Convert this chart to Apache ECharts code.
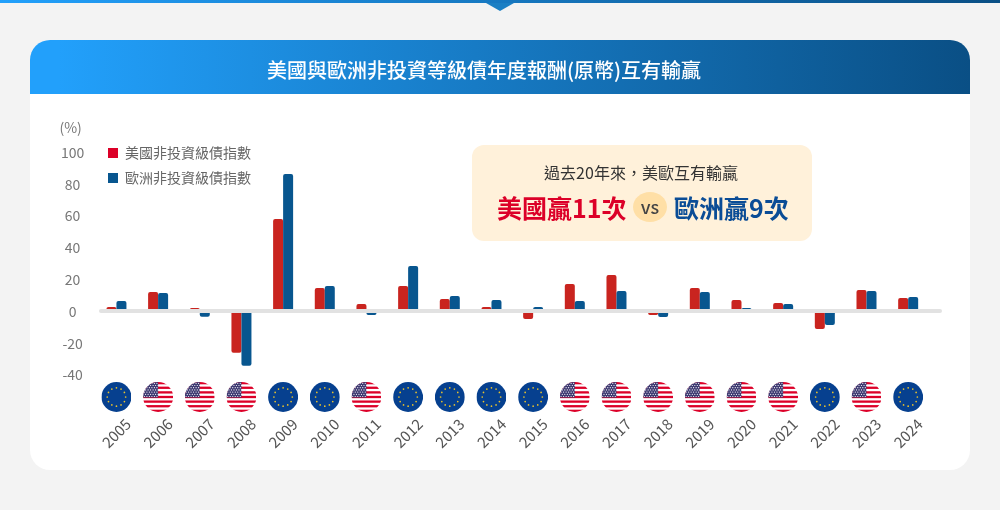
<!DOCTYPE html>
<html><head><meta charset="utf-8">
<script src="https://cdn.jsdelivr.net/npm/echarts@6/dist/echarts.min.js"></script>
<style>html,body{margin:0;padding:0;background:#f3f3f3}#c{width:1000px;height:510px}</style>
</head><body><div id="c"></div>
<script>
const years=['2005','2006','2007','2008','2009','2010','2011','2012','2013','2014','2015','2016','2017','2018','2019','2020','2021','2022','2023','2024'];
const usValues=[2.8,12.3,2.2,-25.9,58.2,14.8,4.7,16,7.9,2.8,-4.7,17.3,23,-2.2,14.8,7.2,5.3,-11,13.5,8.5];
const euValues=[6.6,11.6,-3.3,-34.1,86.5,16,-2.2,28.6,9.7,7.2,2.8,6.6,12.9,-3.5,12.3,2.2,4.7,-8.5,12.9,9.1];
const winners=['EU','US','US','US','EU','EU','US','EU','EU','EU','EU','US','US','US','US','US','US','EU','US','EU'];
const usName='美國非投資級債指數';
const euName='歐洲非投資級債指數';
const titleText='美國與歐洲非投資等級債年度報酬(原幣)互有輸贏';
const yTicks=[-40,-20,0,20,40,60,80,100];
const FONT='"Noto Sans CJK TC","Noto Sans",sans-serif';

function usFlag(){
  let s='<svg xmlns="http://www.w3.org/2000/svg" width="120" height="120" viewBox="0 0 30 30"><defs><clipPath id="c"><circle cx="15" cy="15" r="15"/></clipPath></defs><g clip-path="url(#c)"><rect width="30" height="30" fill="#fff"/>';
  for(let i=0;i<13;i+=2){s+='<rect x="0" y="'+(i*30/13)+'" width="30" height="'+(30/13)+'" fill="#dc0028"/>';}
  s+='<rect width="15" height="15.5" fill="#3e3a72"/>';
  for(let r=0;r<7;r++){for(let k=0;k<6;k++){s+='<circle cx="'+(1.3+k*2.5+(r%2?1.2:0))+'" cy="'+(1.3+r*2.2)+'" r="0.6" fill="#fff"/>';}}
  return s+'</g></svg>';
}
function euFlag(){
  let s='<svg xmlns="http://www.w3.org/2000/svg" width="120" height="120" viewBox="0 0 30 30"><circle cx="15" cy="15" r="15" fill="#06408f"/>';
  for(let i=0;i<12;i++){const a=i*Math.PI/6;s+='<circle cx="'+(15+9.2*Math.sin(a))+'" cy="'+(15-9.2*Math.cos(a))+'" r="0.85" fill="#e9c22c"/>';}
  return s+'</svg>';
}
const img=s=>'image://data:image/svg+xml;charset=utf-8,'+encodeURIComponent(s);
const flagSym={US:img(usFlag()),EU:img(euFlag())};
const barR=2;
const barL=95.6, barW=833.4;

const chart=echarts.init(document.getElementById('c'),null,{renderer:'canvas'});
const txt=(text,x,y,font,fill,align)=>({type:'text',z:3,style:{text,x,y,font,fill,textAlign:align||'center',textVerticalAlign:'middle'}});
chart.setOption({
  animation:false,
  backgroundColor:'#f3f3f3',
  title:{text:titleText,left:479,top:52,textAlign:'center',z:6,
    textStyle:{color:'#fff',fontSize:20,fontWeight:500,fontFamily:FONT,lineHeight:26}},
  legend:{orient:'vertical',left:108,top:145,itemWidth:10,itemHeight:10,itemGap:9,icon:'rect',
    textStyle:{color:'#666',fontSize:14,fontFamily:FONT,padding:[0,0,0,2],lineHeight:16},
    padding:0,
    data:[{name:usName,itemStyle:{color:'#dc0028'}},{name:euName,itemStyle:{color:'#08568f'}}]},
  graphic:[
    {type:'rect',z:-5,shape:{x:0,y:0,width:1000,height:3},style:{fill:new echarts.graphic.LinearGradient(0,0,1,0,[{offset:0,color:'#22a0fb'},{offset:1,color:'#0a4f85'}])}},
    {type:'polygon',z:-5,shape:{points:[[486,3],[514,3],[500,11]]},style:{fill:'#1b7fc4'}},
    {type:'rect',z:-5,shape:{x:30,y:40,width:940,height:430,r:20},style:{fill:'#fff'}},
    {type:'rect',z:-4,shape:{x:30,y:40,width:940,height:54,r:[20,20,0,0]},style:{fill:new echarts.graphic.LinearGradient(0,0,1,0,[{offset:0.03,color:'#22a0fb'},{offset:1,color:'#0a4f85'}])}},
    {type:'rect',z:1,shape:{x:472,y:145,width:340,height:96,r:12},style:{fill:'#fff1da'}},
    {type:'ellipse',z:2,shape:{cx:650,cy:207,rx:17,ry:15},style:{fill:'#ffdfa6'}},
    txt('過去20年來，美歐互有輸贏',641,173,'400 16px '+FONT,'#333'),
    txt('美國贏11次',497,208,'700 25px '+FONT,'#dc0028','left'),
    txt('vs',650,207,'500 18px '+FONT,'#444'),
    txt('歐洲贏9次',674,208,'700 25px '+FONT,'#0a4c96','left')
  ],
  grid:[
    {left:barL,width:barW,top:152.5,height:222.6},
    {left:101,width:839,top:152,height:222.6},
    {left:barL,width:barW,top:382,height:30}
  ],
  xAxis:[
    {type:'category',gridIndex:0,data:years,boundaryGap:true,
      axisLine:{show:false,onZero:false},axisTick:{show:false},
      axisLabel:{interval:0,rotate:45,align:'center',verticalAlign:'middle',margin:58,color:'#555',fontSize:15,fontFamily:FONT}},
    {type:'value',gridIndex:1,min:0,max:1,z:5,
      axisLine:{show:true,onZero:true,lineStyle:{color:'#e2e2e2',width:4,cap:'round'}},
      axisTick:{show:false},axisLabel:{show:false},splitLine:{show:false}},
    {type:'category',gridIndex:2,data:years,show:false}
  ],
  yAxis:[
    {type:'value',gridIndex:0,min:-40,max:100,interval:20,
      name:'(%)',nameLocation:'end',nameGap:18,nameTextStyle:{color:'#777',fontSize:14,fontFamily:FONT,align:'center',padding:[0,50,0,0]},
      axisLine:{show:false},axisTick:{show:false},splitLine:{show:false},
      axisLabel:{color:'#777',fontSize:14,fontFamily:FONT,align:'center',margin:23,customValues:yTicks}},
    {type:'value',gridIndex:1,min:-40,max:100,show:false,splitLine:{show:false}},
    {type:'value',gridIndex:2,min:0,max:1,show:false,splitLine:{show:false}}
  ],
  series:[
    {name:usName,type:'bar',xAxisIndex:0,yAxisIndex:0,barWidth:10,barGap:0,data:usValues,
      itemStyle:{color:'#c9241f',borderRadius:barR}},
    {name:euName,type:'bar',xAxisIndex:0,yAxisIndex:0,barWidth:10,barGap:0,data:euValues,
      itemStyle:{color:'#08568f',borderRadius:barR}},
    {name:'flags',type:'scatter',xAxisIndex:2,yAxisIndex:2,symbolSize:30,silent:true,itemStyle:{opacity:1},
      data:winners.map((w,i)=>({value:[i,0.5],symbol:flagSym[w]}))}
  ]
});
</script></body></html>
